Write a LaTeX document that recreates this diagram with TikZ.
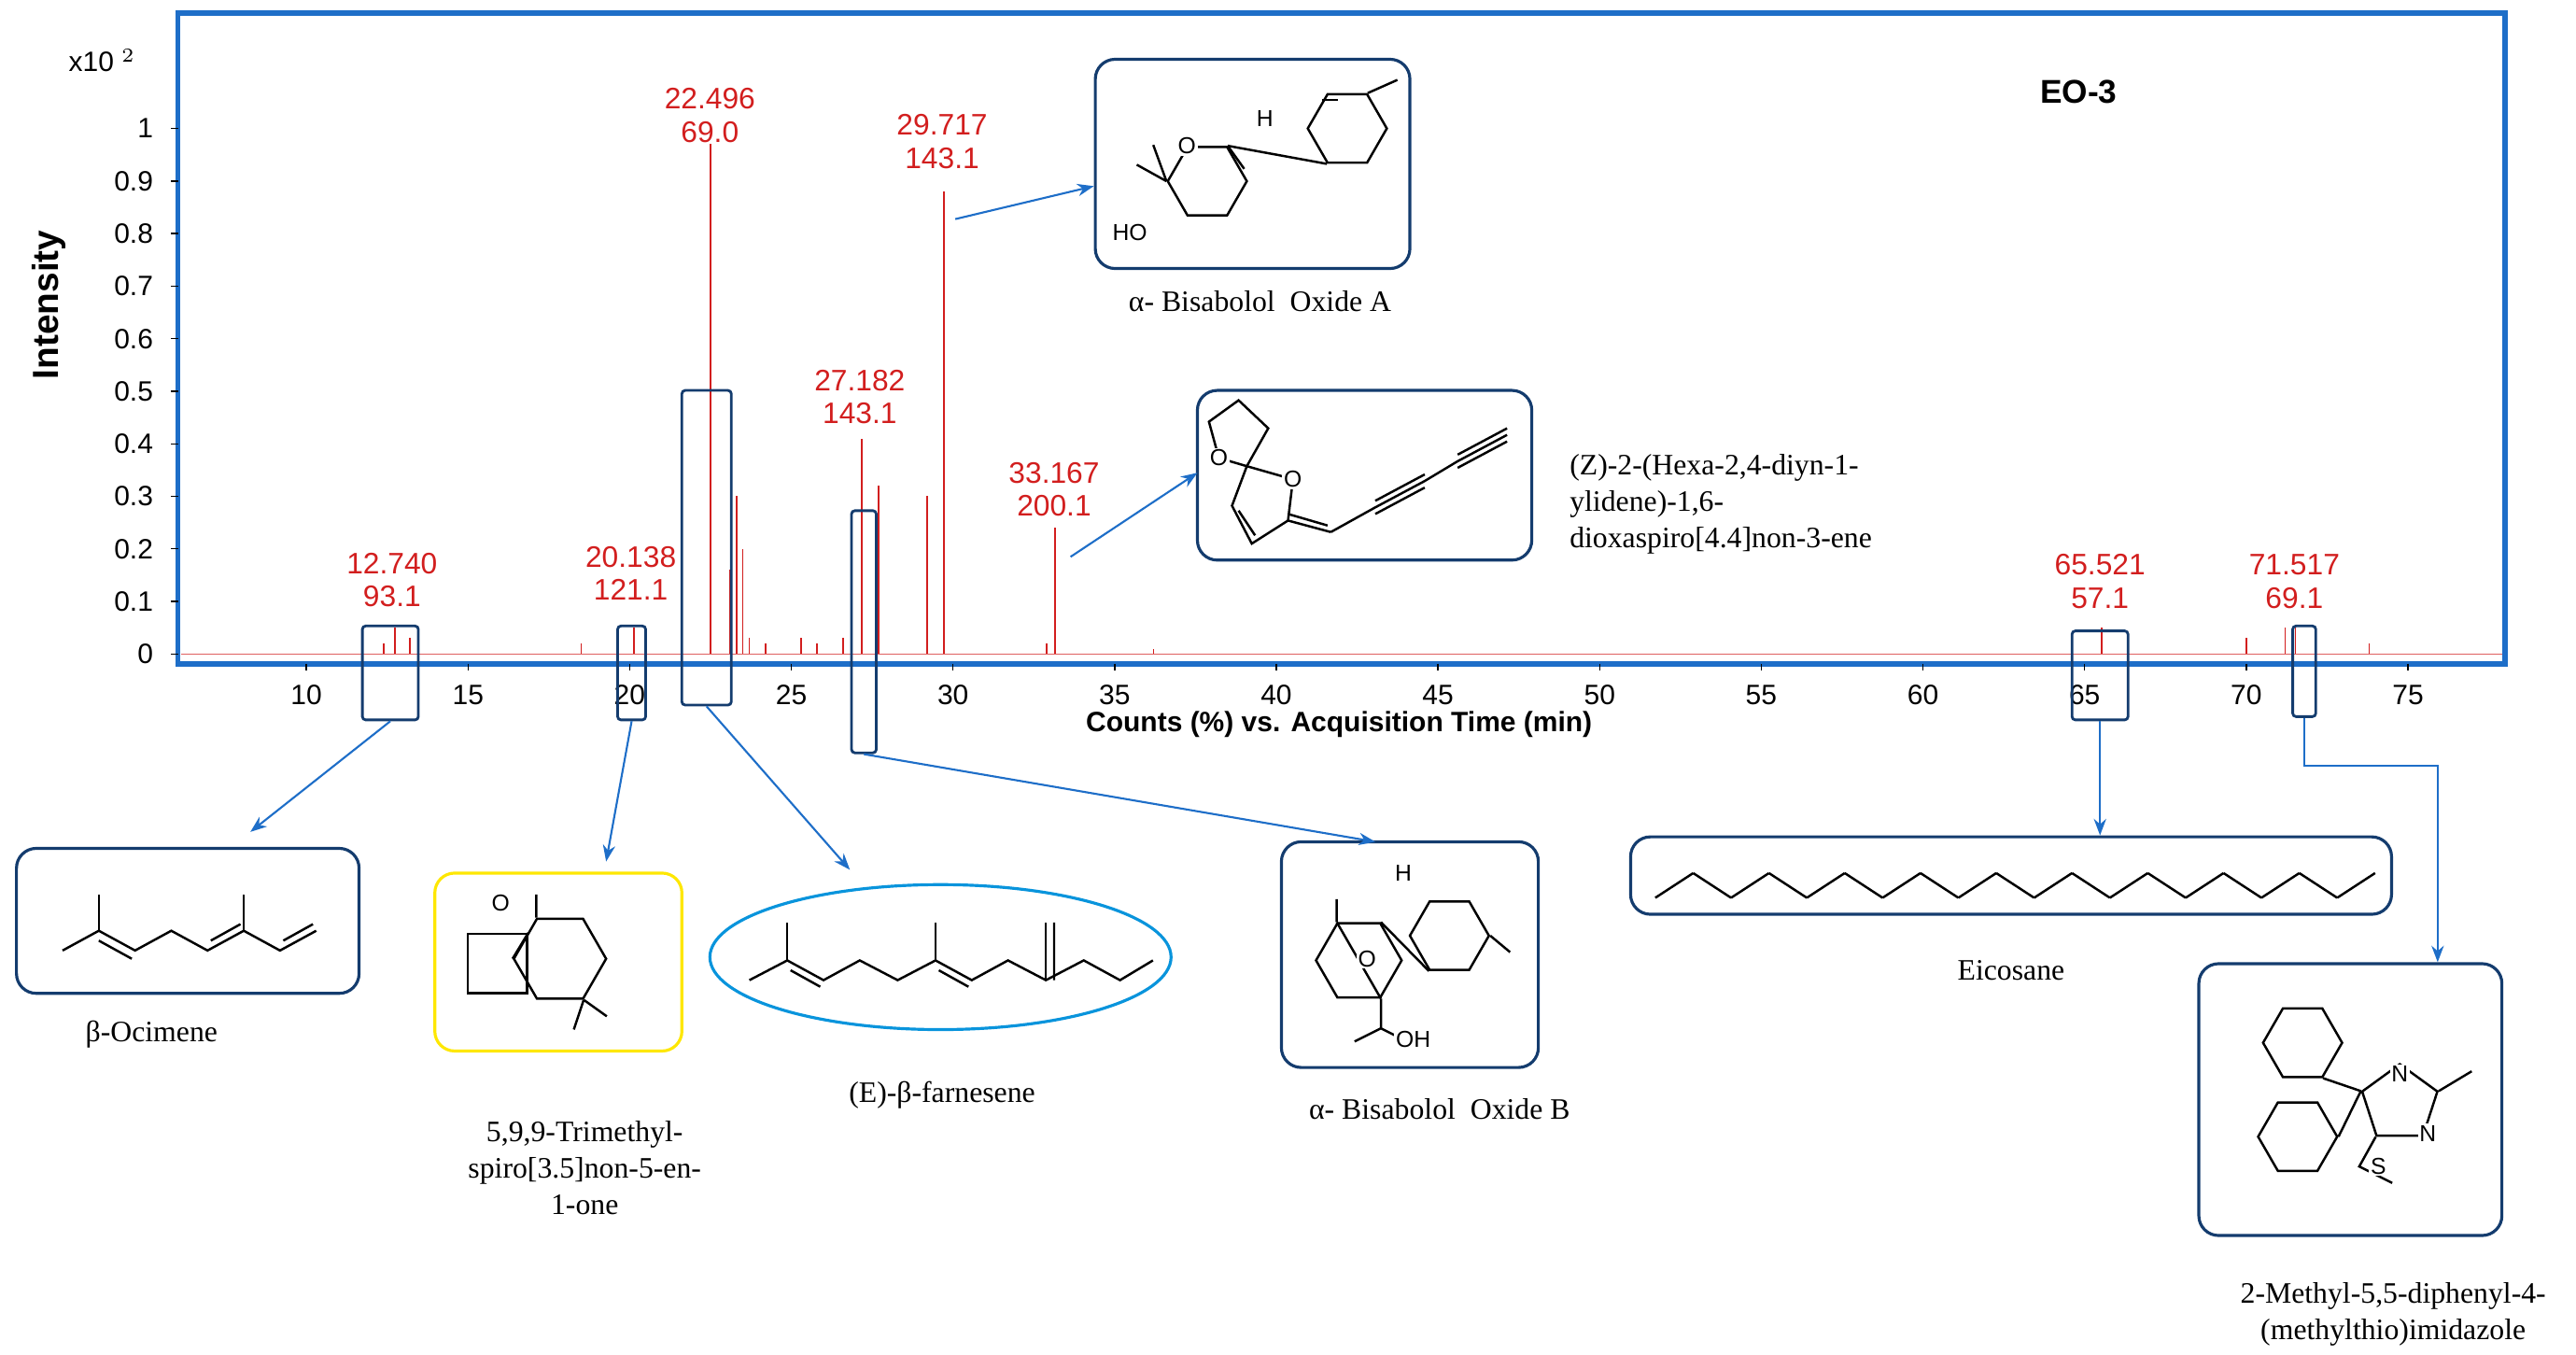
\documentclass[tikz,border=0pt]{standalone}
\usepackage{fontspec}
\setmainfont{Liberation Serif}
\setsansfont{Liberation Sans}
\usetikzlibrary{shapes.geometric,arrows.meta}
\definecolor{fb}{RGB}{30,110,200}
\definecolor{pk}{RGB}{210,30,30}
\definecolor{bx}{RGB}{20,60,110}
\tikzset{
 lab/.style={font=\sffamily\fontsize{9}{10}\selectfont, text=pk, align=center},
 ticklab/.style={font=\sffamily\fontsize{8.5}{9}\selectfont},
 capt/.style={font=\rmfamily\fontsize{9}{11}\selectfont},
 hl/.style={draw=bx, line width=0.8pt, rounded corners=1pt},
 sbox/.style={draw=bx, line width=0.9pt, rounded corners=6pt},
 arr/.style={draw=fb, line width=0.6pt, -{Stealth[length=5pt]}},
 mol/.style={line width=0.7pt},
 hex/.style={draw, mol, regular polygon, regular polygon sides=6, inner sep=0pt},
 pent/.style={draw, mol, regular polygon, regular polygon sides=5, inner sep=0pt},
 atm/.style={font=\sffamily\fontsize{7}{8}\selectfont, fill=white, inner sep=0.5pt}
}
\begin{document}
\begin{tikzpicture}[x=0.5pt,y=-0.5pt]
\useasboundingbox (0,0) rectangle (1564,822);
% frame
\draw[fb, line width=1.6pt] (108,8) rectangle (1521,403);
\node[font=\sffamily\fontsize{8.5}{9}\selectfont] (x10) at (62,37) {x10 $^2$};
\node[font=\sffamily\bfseries\fontsize{11}{12}\selectfont, rotate=90] (ylab) at (30,185) {Intensity};
\node[font=\sffamily\bfseries\fontsize{10}{11}\selectfont] (eo) at (1262,56) {EO-3};
\foreach \v/\t in {0/0,1/0.1,2/0.2,3/0.3,4/0.4,5/0.5,6/0.6,7/0.7,8/0.8,9/0.9,10/1}{
  \node[ticklab, anchor=east] at (100,397-\v*31.9) {\t};
  \draw (104,397-\v*31.9) -- (108,397-\v*31.9);}
\foreach \t in {10,15,...,75}{
  \node[ticklab] at ({186+(\t-10)*19.63},422) {\t};
  \draw ({186+(\t-10)*19.63},403) -- ({186+(\t-10)*19.63},407);}
\node[font=\sffamily\bfseries\fontsize{8.5}{9}\selectfont] (xl) at (813,440) {Counts (\%) vs. Acquisition Time (min)};
% baseline & peaks
\draw[pk!70, line width=0.4pt] (110,397) -- (1519,397);
\foreach \t/\h in {12.74/0.05,13.2/0.03,12.4/0.02,20.138/0.05,18.5/0.02,22.496/0.97,23.1/0.16,23.3/0.3,23.5/0.2,23.7/0.03,24.2/0.02,25.3/0.03,25.8/0.02,26.6/0.03,27.182/0.41,27.7/0.32,29.2/0.3,29.717/0.88,33.167/0.24,32.9/0.02,36.2/0.01,65.521/0.05,70/0.03,71.2/0.05,71.517/0.05,73.8/0.02}
  \draw[pk, line width=0.5pt] ({186+(\t-10)*19.63},397) -- ++(0,{-\h*319});
% labels
\node[lab] at (238,352) {12.740\\93.1};
\node[lab] at (383,348) {20.138\\121.1};
\node[lab] at (431,70) {22.496\\69.0};
\node[lab] at (572,86) {29.717\\143.1};
\node[lab] at (522,241) {27.182\\143.1};
\node[lab] at (640,297) {33.167\\200.1};
\node[lab] at (1275,353) {65.521\\57.1};
\node[lab] at (1393,353) {71.517\\69.1};
% highlight boxes
\node[hl, minimum width=17pt, minimum height=28.5pt] (h1) at (237,408.5) {};
\node[hl, minimum width=8.5pt, minimum height=28.5pt] (h2) at (383.5,408.5) {};
\node[hl, minimum width=15pt, minimum height=95.5pt] (h3) at (429,332.5) {};
\node[hl, minimum width=7.5pt, minimum height=73.5pt] (h4) at (524.5,383.5) {};
\node[hl, minimum width=17pt, minimum height=27pt] (h5) at (1275,410) {};
\node[hl, minimum width=7pt, minimum height=27.5pt] (h6) at (1399,407.5) {};
% structure boxes
\node[sbox, minimum width=95.5pt, minimum height=63.5pt] (bA) at (760.5,99.5) {};
\node[sbox, minimum width=101.5pt, minimum height=51.5pt] (bS) at (828.5,288.5) {};
\node[sbox, minimum width=104pt, minimum height=44pt] (bO) at (114,559) {};
\node[sbox, draw=yellow!90!orange, minimum width=75pt, minimum height=54pt] (bY) at (339,584) {};
\node[draw=cyan!80!blue, line width=0.9pt, ellipse, minimum width=140pt, minimum height=44pt] (bF) at (571,581) {};
\node[sbox, minimum width=78pt, minimum height=68.5pt] (bB) at (856,579.5) {};
\node[sbox, minimum width=231pt, minimum height=23.5pt] (bE) at (1221,531.5) {};
\node[sbox, minimum width=92pt, minimum height=82.5pt] (bI) at (1427,667.5) {};
% captions
\node[capt] at (765,183) {α- Bisabolol\ \ Oxide A};
\node[capt, align=left, anchor=west] at (946,306) {(Z)-2-(Hexa-2,4-diyn-1-\\ylidene)-1,6-\\dioxaspiro[4.4]non-3-ene};
\node[capt] at (92,628) {β-Ocimene};
\node[capt, align=center] at (355,709) {5,9,9-Trimethyl-\\spiro[3.5]non-5-en-\\1-one};
\node[capt] at (572,665) {(E)-β-farnesene};
\node[capt] at (874,673) {α- Bisabolol\ \ Oxide B};
\node[capt] at (1221,589) {Eicosane};
\node[capt, align=center] at (1453,798) {2-Methyl-5,5-diphenyl-4-\\(methylthio)imidazole};
% arrows
\draw[arr] (h1.south) -- (152,505);
\draw[arr] (h2.south) -- (368,523);
\draw[arr] (h3.south) -- (516,528);
\draw[arr] (h4.south) -- (835,511);
\draw[arr] (h5.south) -- (bE.north -| h5.south);
\draw[arr] (h6.south) -- (1399,465) -- (1480,465) -- (bI.north -| 1480,0);
\draw[arr] (580,133) -- (bA.west |- 0,113);
\draw[arr] (650,338) -- (727,287);
% --- molecules (approximate) ---
\node[hex, minimum size=24pt] (r1) at (733,110) {};
\node[hex, minimum size=24pt] (r2) at (818,78) {};
\draw[mol] (r1.corner 1) -- (r2.corner 4);
\draw[mol] (r1.corner 3) -- ++(-18,-10) (r1.corner 3) -- ++(-8,-22);
\draw[mol] (r1.corner 1) -- ++(10,14);
\draw[mol] (r2.corner 1) -- ++(18,-8);
\draw[mol] (r2.corner 2) ++(-3,4) -- ++(10,0);
\node[atm] at (r1.corner 2) {O};
\node[atm] at (686,141) {HO};
\node[atm] at (768,72) {H};
% spiro
\coordinate (S) at (757,283);
\draw[mol] (S) -- (740,278) -- (734,256) -- (752,243) -- (770,260) -- cycle;
\draw[mol] (S) -- (785,291) -- (782,316) -- (760,330) -- (748,307) -- cycle;
\draw[mol] (752,310) -- (762,325);
\draw[mol] (782,316) -- (808,323) (782,312) -- (806,319);
\draw[mol] (808,323) -- (835,308) (835,304) -- (865,288) (835,312) -- (865,296) (835,308) -- (865,292) -- (885,280);
\draw[mol] (885,276) -- (915,260) (885,284) -- (915,268) (885,280) -- (915,264);
\node[atm] at (740,278) {O};
\node[atm] at (785,291) {O};
% ocimene
\draw[mol] (38,577) -- (60,565) -- (82,577) -- (104,565) -- (126,577) -- (148,565) -- (170,577) -- (192,565);
\draw[mol] (60,565) -- (60,543) (148,565) -- (148,543);
\draw[mol] (60,571) -- (80,582) (128,571) -- (146,561) (172,571) -- (190,561);
% yellow spiro
\node[draw, mol, minimum size=18pt, inner sep=0pt] (sq) at (302,585) {};
\node[hex, minimum size=28pt] (h) at (340,582) {};
\node[atm] at (304,548) {O};
\draw[mol] (sq.north east) -- (h.corner 3) (h.corner 2) -- ++(0,-14) (h.corner 5) -- ++(-6,18) (h.corner 5) -- ++(14,10);
% farnesene
\draw[mol] (455,595) -- (478,583) -- (500,595) -- (522,583) -- (545,595) -- (568,583) -- (590,595) -- (612,583) -- (635,595) -- (658,583) -- (680,595) -- (700,583);
\draw[mol] (478,583) -- (478,560) (568,583) -- (568,560) (635,595) -- (635,560);
\draw[mol] (640,595) -- (640,560) (480,589) -- (498,599) (570,589) -- (588,599);
% bisabolol B
\node[hex, minimum size=26pt] (b1) at (825,583) {};
\node[hex, minimum size=24pt] (b2) at (880,568) {};
\draw[mol] (b1.corner 1) -- (b2.corner 4) (b1.corner 2) -- (b1.corner 5);
\draw[mol] (b1.corner 5) -- ++(0,18) -- ++(-16,8) (b1.corner 5) ++(0,18) -- ++(16,8);
\draw[mol] (b2.corner 6) -- ++(12,10) (b1.corner 2) -- ++(0,-14);
\node[atm] at (830,582) {O};
\node[atm] at (852,530) {H};
\node[atm] at (858,631) {OH};
% eicosane
\foreach \i in {0,...,18}{
  \pgfmathsetmacro{\ya}{mod(\i,2)==0 ? 545 : 530}
  \pgfmathsetmacro{\yb}{mod(\i,2)==0 ? 530 : 545}
  \draw[mol] ({1005+\i*23},\ya) -- ({1005+(\i+1)*23},\yb);}
% imidazole
\node[hex, minimum size=24pt] (q1) at (1398,633) {};
\node[hex, minimum size=24pt] (q2) at (1395,690) {};
\node[pent, minimum size=24pt] (im) at (1457,670) {};
\draw[mol] (q1.corner 5) -- (im.corner 2) (q2.corner 6) -- (im.corner 2);
\draw[mol] (im.corner 5) -- ++(20,-12) (im.corner 3) -- ++(-10,18) -- ++(20,10);
\node[atm] at (1457,652) {N};
\node[atm] at (1474,688) {N};
\node[atm] at (1444,708) {S};
\end{tikzpicture}
\end{document}
